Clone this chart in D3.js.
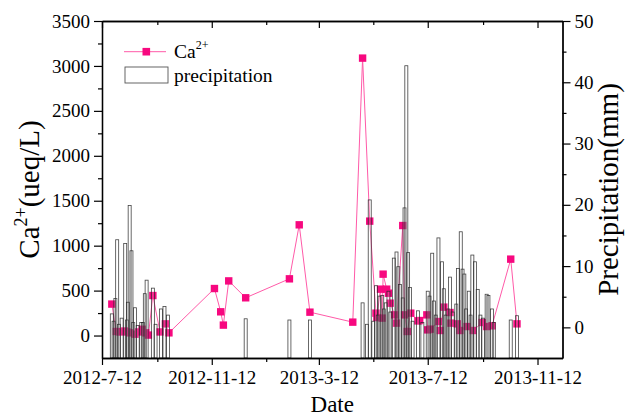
<!doctype html>
<html lang="en">
<head>
    <meta charset="UTF-8">
    <title>Ca2+ and precipitation</title>
    <script src="https://cdnjs.cloudflare.com/ajax/libs/d3/7.8.5/d3.min.js"></script>
    <style>
        html, body {
            margin: 0;
            padding: 0;
            background: #fff;
            overflow: hidden;
        }
        svg text {
            font-family: "Liberation Serif", "Times New Roman", serif !important;
        }
    </style>
</head>
<body>
<svg id="chart" width="628" height="417"></svg>
<script>
    // Ca2+ samples (ueq/L)
    const caDates = [
        "2012-07-23", "2012-07-28", "2012-08-01", "2012-08-06", "2012-08-09", "2012-08-12",
        "2012-08-18", "2012-08-22", "2012-08-26", "2012-08-30", "2012-09-02", "2012-09-07",
        "2012-09-15", "2012-09-21", "2012-09-25", "2012-11-15", "2012-11-22", "2012-11-25",
        "2012-12-01", "2012-12-20", "2013-02-07", "2013-02-18", "2013-03-02", "2013-04-19",
        "2013-04-30", "2013-05-08", "2013-05-15", "2013-05-16", "2013-05-20", "2013-05-22",
        "2013-05-23", "2013-05-27", "2013-05-29", "2013-05-31", "2013-06-05", "2013-06-07",
        "2013-06-14", "2013-06-16", "2013-06-19", "2013-06-23", "2013-07-01", "2013-07-03",
        "2013-07-11", "2013-07-12", "2013-07-15", "2013-07-24", "2013-07-26", "2013-07-30",
        "2013-08-06", "2013-08-07", "2013-08-14", "2013-08-17", "2013-08-25", "2013-09-01",
        "2013-09-11", "2013-09-16", "2013-09-22", "2013-10-13", "2013-10-20"
    ];
    const caValues = [
        350, 45, 40, 50, 40, 30,
        15, 40, 70, 30, 5, 445,
        40, 130, 30, 523, 264, 116,
        608, 420, 631, 1232, 260, 149,
        3087, 1273, 249, 200, 516, 194,
        683, 516, 471, 360, 230, 138,
        1224, 230, 45, 249, 163, 167,
        230, 63, 71, 156, 56, 316,
        256, 138, 130, 56, 100, 56,
        145, 100, 108, 850, 130
    ];

    // daily precipitation (mm)
    const rainDates = [
        "2012-07-23", "2012-07-25", "2012-07-27", "2012-07-29", "2012-07-31", "2012-08-03",
        "2012-08-07", "2012-08-09", "2012-08-10", "2012-08-12", "2012-08-14", "2012-08-16",
        "2012-08-18", "2012-08-21", "2012-08-25", "2012-08-27", "2012-08-29", "2012-08-31",
        "2012-09-07", "2012-09-10", "2012-09-16", "2012-09-20", "2012-09-24",
        "2012-12-20", "2013-02-07", "2013-03-02",
        "2013-04-30", "2013-05-05", "2013-05-08", "2013-05-12", "2013-05-15", "2013-05-17",
        "2013-05-19", "2013-05-22", "2013-05-24", "2013-05-26", "2013-05-29", "2013-05-31",
        "2013-06-04", "2013-06-07", "2013-06-09", "2013-06-11", "2013-06-14", "2013-06-16",
        "2013-06-18", "2013-06-20", "2013-06-22", "2013-06-25", "2013-07-01", "2013-07-06",
        "2013-07-12", "2013-07-14", "2013-07-17", "2013-07-19", "2013-07-21", "2013-07-24",
        "2013-07-28", "2013-07-30", "2013-08-01", "2013-08-04", "2013-08-06", "2013-08-09",
        "2013-08-13", "2013-08-15", "2013-08-18", "2013-08-20", "2013-08-22", "2013-08-24",
        "2013-08-27", "2013-08-29", "2013-08-31", "2013-09-03", "2013-09-06", "2013-09-09",
        "2013-09-12", "2013-09-16", "2013-09-18", "2013-09-22", "2013-09-24",
        "2013-10-13", "2013-10-20"
    ];
    const rainValues = [
        2.2, 1.0, 4.7, 14.3, 0.5, 1.5,
        13.7, 1.2, 4.1, 19.9, 12.5, 0.8,
        3.2, 0.3, 0.8, 0.8, 5.5, 7.7,
        6.4, 0.5, 3.0, 3.4, 2.0,
        1.4, 1.2, 1.2,
        4.0, 0.5, 20.8, 1.0, 6.8, 2.0,
        5.1, 5.2, 3.0, 4.0, 5.9, 2.5,
        11.3, 12.3, 9.9, 7.0, 4.8, 19.5,
        42.7, 12.2, 6.5, 1.0, 2.7, 0.8,
        5.9, 5.1, 12.1, 4.3, 2.0, 14.6,
        10.7, 6.3, 2.0, 3.0, 8.2, 2.5,
        3.8, 9.6, 15.6, 9.5, 8.7, 3.0,
        5.9, 2.0, 11.8, 10.7, 6.2, 2.0,
        1.5, 5.4, 5.2, 3.0, 0.8,
        1.2, 1.9
    ];

    const xMajorTicks = ["2012-07-12", "2012-11-12", "2013-03-12", "2013-07-12", "2013-11-12"];
    const xMinorTicks = ["2012-09-12", "2013-01-12", "2013-05-12", "2013-09-12"];
    const leftTicks = [0, 500, 1000, 1500, 2000, 2500, 3000, 3500];
    const leftMinor = [250, 750, 1250, 1750, 2250, 2750, 3250];
    const rightTicks = [0, 10, 20, 30, 40, 50];
    const rightMinor = [5, 15, 25, 35, 45];

    const serif = '"Liberation Serif", "Times New Roman", serif';
    const parse = d3.utcParse("%Y-%m-%d");
    const fmt = d3.utcFormat("%Y-%-m-%-d");

    const svg = d3.select("#chart").style("font-family", serif);
    const m = {left: 102, right: 562.5, top: 21, bottom: 358};

    const x = d3.scaleUtc()
        .domain([parse("2012-07-12"), parse("2013-12-10")])
        .range([m.left, m.right]);
    const yL = d3.scaleLinear().domain([-250, 3500]).range([m.bottom, m.top]);
    const yR = d3.scaleLinear().domain([-5, 50]).range([m.bottom, m.top]);

    const ca = caDates.map((d, i) => ({date: parse(d), v: caValues[i]}));
    const rain = rainDates.map((d, i) => ({date: parse(d), v: rainValues[i]}));

    const pink = "#f7087f";

    // Ca2+ line + markers
    svg.append("path")
        .datum(ca)
        .attr("fill", "none")
        .attr("stroke", "#ff5aa8")
        .attr("stroke-width", 1)
        .attr("d", d3.line().x(d => x(d.date)).y(d => yL(d.v)));

    svg.selectAll(".mk")
        .data(ca)
        .enter().append("rect")
        .attr("class", "mk")
        .attr("x", d => x(d.date) - 3.7)
        .attr("y", d => yL(d.v) - 3.7)
        .attr("width", 7.4)
        .attr("height", 7.4)
        .attr("fill", pink);

    // precipitation bars drawn over the markers
    svg.selectAll(".bar")
        .data(rain)
        .enter().append("rect")
        .attr("class", "bar")
        .attr("x", d => x(d.date) - 1.5)
        .attr("y", d => yR(d.v))
        .attr("width", 3)
        .attr("height", d => m.bottom - yR(d.v))
        .attr("fill", "#fff")
        .attr("fill-opacity", 0.15)
        .attr("stroke", "#222")
        .attr("stroke-opacity", 0.85)
        .attr("stroke-width", 0.8);

    // axes
    const styleAxis = g => {
        g.attr("font-family", serif);
        g.selectAll("text").style("font-size", "19px").attr("fill", "#000");
        g.selectAll("line").attr("stroke", "#000").attr("stroke-width", 1.2);
        g.select(".domain").attr("stroke", "#000").attr("stroke-width", 1.3);
    };

    svg.append("g")
        .attr("transform", `translate(${m.left},0)`)
        .call(d3.axisLeft(yL).tickValues(leftTicks).tickSize(8).tickSizeOuter(0).tickPadding(4)
            .tickFormat(d3.format("d")))
        .call(styleAxis);
    svg.append("g")
        .attr("transform", `translate(${m.left},0)`)
        .call(d3.axisLeft(yL).tickValues(leftMinor).tickSize(4).tickSizeOuter(0).tickFormat(""))
        .call(styleAxis);

    svg.append("g")
        .attr("transform", `translate(${m.right},0)`)
        .call(d3.axisRight(yR).tickValues(rightTicks).tickSize(8).tickSizeOuter(0).tickPadding(4)
            .tickFormat(d3.format("d")))
        .call(styleAxis);
    svg.append("g")
        .attr("transform", `translate(${m.right},0)`)
        .call(d3.axisRight(yR).tickValues(rightMinor).tickSize(4).tickSizeOuter(0).tickFormat(""))
        .call(styleAxis);

    svg.append("g")
        .attr("transform", `translate(0,${m.bottom})`)
        .call(d3.axisBottom(x).tickValues(xMajorTicks.map(parse)).tickSize(7).tickSizeOuter(0)
            .tickPadding(6).tickFormat(fmt))
        .call(styleAxis);
    svg.append("g")
        .attr("transform", `translate(0,${m.bottom})`)
        .call(d3.axisBottom(x).tickValues(xMinorTicks.map(parse)).tickSize(4).tickSizeOuter(0).tickFormat(""))
        .call(styleAxis);

    // top frame with inward ticks
    svg.append("g")
        .attr("transform", `translate(0,${m.top})`)
        .call(d3.axisBottom(x).tickValues(xMajorTicks.map(parse)).tickSize(7).tickSizeOuter(0).tickFormat(""))
        .call(styleAxis);
    svg.append("g")
        .attr("transform", `translate(0,${m.top})`)
        .call(d3.axisBottom(x).tickValues(xMinorTicks.map(parse)).tickSize(4).tickSizeOuter(0).tickFormat(""))
        .call(styleAxis);

    // axis titles
    svg.append("text")
        .attr("x", (m.left + m.right) / 2)
        .attr("y", 412)
        .attr("text-anchor", "middle")
        .style("font-size", "23px")
        .text("Date");

    const yTitle = svg.append("text")
        .attr("transform", `translate(39,${(m.top + m.bottom) / 2}) rotate(-90)`)
        .attr("text-anchor", "middle")
        .style("font-size", "29px");
    yTitle.append("tspan").text("Ca");
    yTitle.append("tspan").attr("dy", -12).style("font-size", "18px").text("2+");
    yTitle.append("tspan").attr("dy", 12).text("(ueq/L)");

    svg.append("text")
        .attr("transform", `translate(618,${(m.top + m.bottom) / 2}) rotate(-90)`)
        .attr("text-anchor", "middle")
        .style("font-size", "29px")
        .text("Precipitation(mm)");

    // legend
    const lg = svg.append("g");
    lg.append("line")
        .attr("x1", 124).attr("x2", 166).attr("y1", 51.7).attr("y2", 51.7)
        .attr("stroke", "#ff5aa8").attr("stroke-width", 1);
    lg.append("rect")
        .attr("x", 142.5).attr("y", 47.9).attr("width", 7.6).attr("height", 7.6)
        .attr("fill", pink);
    const lt = lg.append("text").attr("x", 174).attr("y", 58).style("font-size", "19.5px");
    lt.append("tspan").text("Ca");
    lt.append("tspan").attr("dy", -9).style("font-size", "12px").text("2+");
    lg.append("rect")
        .attr("x", 125).attr("y", 67).attr("width", 43).attr("height", 16)
        .attr("fill", "none").attr("stroke", "#555").attr("stroke-width", 0.9);
    lg.append("text").attr("x", 174).attr("y", 82).style("font-size", "19.5px").text("precipitation");
</script>
</body>
</html>
